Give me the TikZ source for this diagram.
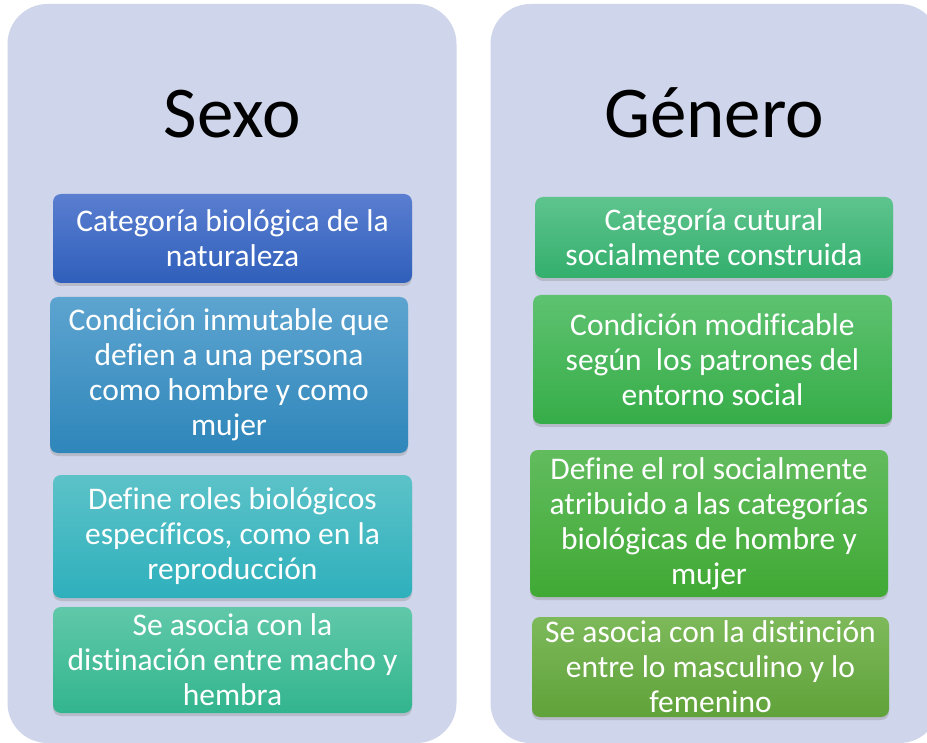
\documentclass[tikz,border=0pt]{standalone}
\usepackage{fontspec}
\setmainfont[Ligatures=NoCommon]{Carlito}
\usetikzlibrary{shadows}

\begin{document}
\begin{tikzpicture}[x=1pt, y=-1pt]
    % Define colours
    \definecolor{panelColour}{HTML}{CFD5EA}
    \definecolor{sexoTopA}{HTML}{5A7ED0}
    \definecolor{sexoBotA}{HTML}{2F5FBB}
    \definecolor{sexoTopB}{HTML}{5DA4D0}
    \definecolor{sexoBotB}{HTML}{2E86BA}
    \definecolor{sexoTopC}{HTML}{5CC2C8}
    \definecolor{sexoBotC}{HTML}{2EB0BC}
    \definecolor{sexoTopD}{HTML}{60C8A8}
    \definecolor{sexoBotD}{HTML}{32B58E}
    \definecolor{generoTopA}{HTML}{5EC48E}
    \definecolor{generoBotA}{HTML}{33AF6C}
    \definecolor{generoTopB}{HTML}{5EC270}
    \definecolor{generoBotB}{HTML}{36AD48}
    \definecolor{generoTopC}{HTML}{62BC5E}
    \definecolor{generoBotC}{HTML}{40A934}
    \definecolor{generoTopD}{HTML}{7DB95A}
    \definecolor{generoBotD}{HTML}{60A23A}

    % Define styles
    \tikzset{
        panel/.style={fill=panelColour, rounded corners=40pt, inner sep=0pt,
            minimum width=449pt, minimum height=739pt},
        heading/.style={anchor=base, text=black, font=\fontsize{73}{88}\selectfont},
        textbox/.style={rounded corners=8pt, inner sep=0pt, align=center, text=white,
            font=\fontsize{31.5}{35}\selectfont,
            drop shadow={opacity=0.3, shadow xshift=0pt, shadow yshift=-3pt}},
    }

    % Background and bounding box
    \fill[white] (0,0) rectangle (927,743);
    \useasboundingbox (0,0) rectangle (927,743);

    % Draw panels
    \node[panel] (sexoPanel) at (232,373.5) {};
    \node[panel] (generoPanel) at (715,373.5) {};

    % Draw headings
    \node[heading] (sexoTitle) at (232,138) {Sexo};
    \node[heading] (generoTitle) at (714,138) {Género};

    % Draw boxes for Sexo
    \node[textbox, top color=sexoTopA, bottom color=sexoBotA, minimum width=359pt, minimum height=89pt]
        (sexoA) at (232.5,238.5) {Categoría biológica de la\\naturaleza};
    \node[textbox, top color=sexoTopB, bottom color=sexoBotB, minimum width=358pt, minimum height=156pt]
        (sexoB) at (229,375) {Condición inmutable que\\defien a una persona\\como hombre y como\\mujer};
    \node[textbox, top color=sexoTopC, bottom color=sexoBotC, minimum width=359pt, minimum height=123pt]
        (sexoC) at (232.5,536.5) {Define roles biológicos\\específicos, como en la\\reproducción};
    \node[textbox, top color=sexoTopD, bottom color=sexoBotD, minimum width=359pt, minimum height=106pt]
        (sexoD) at (232.5,660) {Se asocia con la\\distinación entre macho y\\hembra};

    % Draw boxes for Genero
    \node[textbox, top color=generoTopA, bottom color=generoBotA, minimum width=358pt, minimum height=81pt]
        (generoA) at (714,237.5) {Categoría cutural\\socialmente construida};
    \node[textbox, top color=generoTopB, bottom color=generoBotB, minimum width=359pt, minimum height=129pt]
        (generoB) at (712.5,359.5) {Condición modificable\\según\ \ los patrones del\\entorno social};
    \node[textbox, top color=generoTopC, bottom color=generoBotC, minimum width=358pt, minimum height=147pt]
        (generoC) at (709,523.5) {Define el rol socialmente\\atribuido a las categorías\\biológicas de hombre y\\mujer};
    \node[textbox, top color=generoTopD, bottom color=generoBotD, minimum width=357pt, minimum height=100pt]
        (generoD) at (710.5,667) {Se asocia con la distinción\\entre lo masculino y lo\\femenino};

\end{tikzpicture}
\end{document}
